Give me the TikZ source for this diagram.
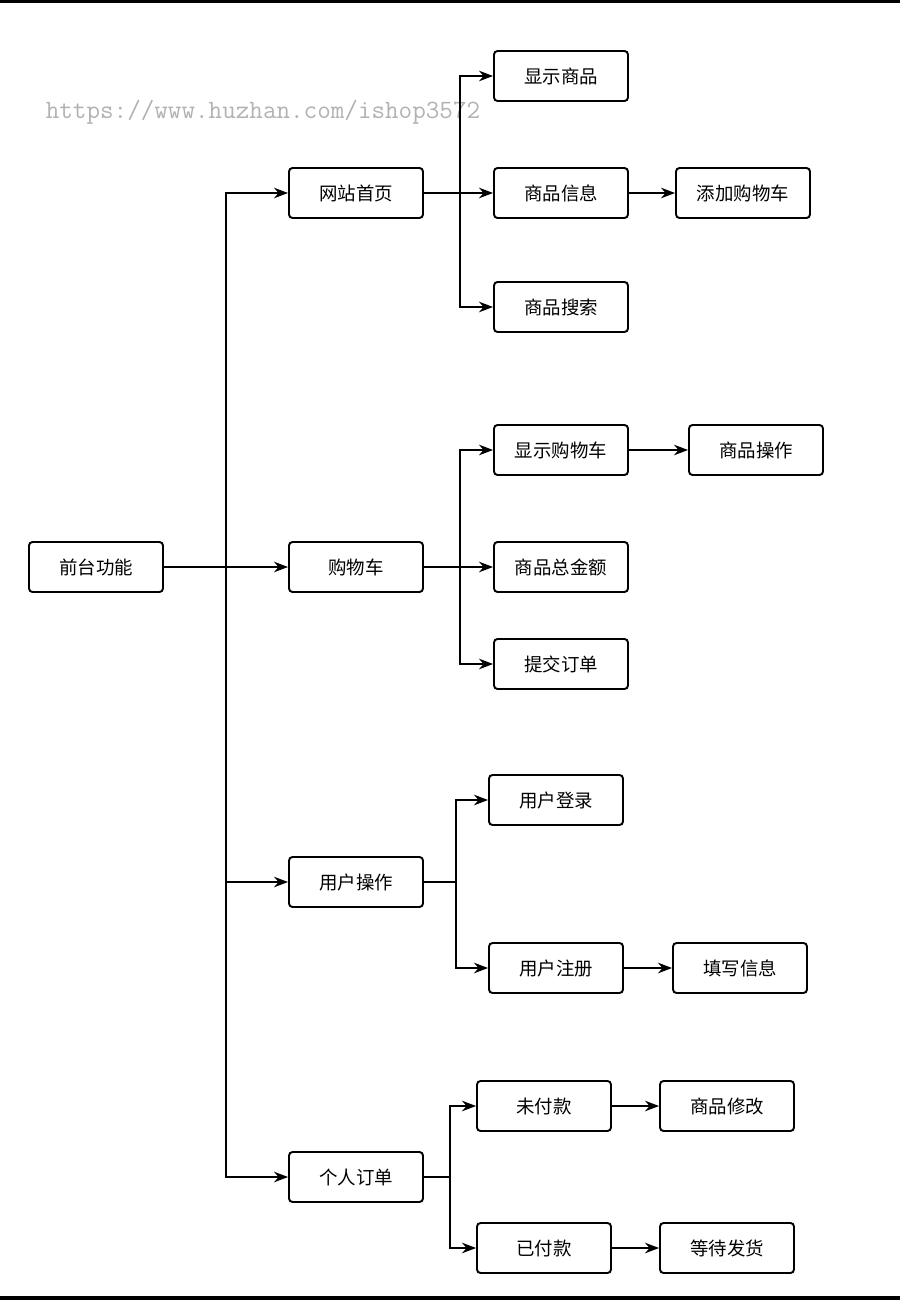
\documentclass[tikz,border=0pt]{standalone}
\usepackage{fontspec}
\setmainfont{Noto Sans CJK SC}
\usetikzlibrary{arrows.meta}
\tikzset{
  box/.style={draw, line width=1.1pt, rounded corners=2pt, minimum width=2.68cm, minimum height=1cm, inner sep=0pt, font=\fontsize{10.5}{12}\selectfont},
  arr/.style={-{Stealth[length=8pt,width=6pt]}, line width=1pt}
}
\begin{document}
\begin{tikzpicture}[x=0.02cm,y=-0.02cm]
  \useasboundingbox (0,0) rectangle (900,1300);
  \fill (0,0) rectangle (900,3);
  \fill (0,1296) rectangle (900,1300);
  \node[text=black!30, font=\ttfamily\fontsize{15}{15}\selectfont] (wm) at (263,112) {https://www.huzhan.com/ishop3572};
  % level 0 and 1
  \node[box] (root) at (96,567) {前台功能};
  \node[box] (home) at (356,193) {网站首页};
  \node[box] (cart) at (356,567) {购物车};
  \node[box] (user) at (356,882) {用户操作};
  \node[box] (order) at (356,1177) {个人订单};
  % level 2
  \node[box] (show) at (561,76) {显示商品};
  \node[box] (info) at (561,193) {商品信息};
  \node[box] (search) at (561,307) {商品搜索};
  \node[box] (add) at (743,193) {添加购物车};
  \node[box] (showcart) at (561,450) {显示购物车};
  \node[box] (op) at (756,450) {商品操作};
  \node[box] (total) at (561,567) {商品总金额};
  \node[box] (submit) at (561,664) {提交订单};
  \node[box] (login) at (556,800) {用户登录};
  \node[box] (reg) at (556,968) {用户注册};
  \node[box] (fill) at (740,968) {填写信息};
  \node[box] (unpaid) at (544,1106) {未付款};
  \node[box] (modify) at (727,1106) {商品修改};
  \node[box] (paid) at (544,1248) {已付款};
  \node[box] (wait) at (727,1248) {等待发货};
  % branch points
  \coordinate (t0) at (226,567);
  \coordinate (t1) at (460,193);
  \coordinate (t2) at (460,567);
  \coordinate (t3) at (456,882);
  \coordinate (t4) at (450,1177);
  % connectors
  \foreach \c in {home,cart,user,order}
    \draw[arr] (root.east) -- (t0) |- (\c.west);
  \foreach \c in {show,info,search}
    \draw[arr] (home.east) -- (t1) |- (\c.west);
  \foreach \c in {showcart,total,submit}
    \draw[arr] (cart.east) -- (t2) |- (\c.west);
  \foreach \c in {login,reg}
    \draw[arr] (user.east) -- (t3) |- (\c.west);
  \foreach \c in {unpaid,paid}
    \draw[arr] (order.east) -- (t4) |- (\c.west);
  \draw[arr] (info) -- (add);
  \draw[arr] (showcart) -- (op);
  \draw[arr] (reg) -- (fill);
  \draw[arr] (unpaid) -- (modify);
  \draw[arr] (paid) -- (wait);
\end{tikzpicture}
\end{document}
